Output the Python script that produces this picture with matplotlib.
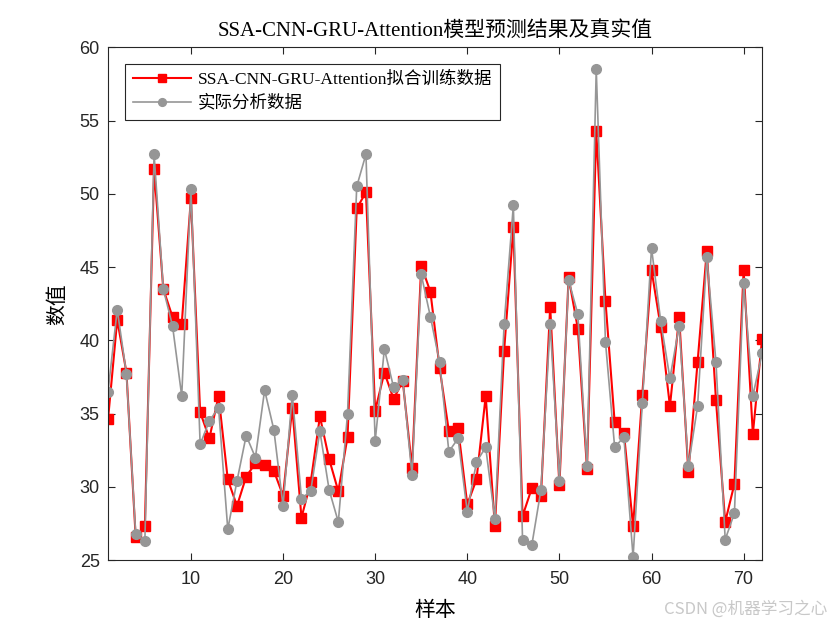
import matplotlib.pyplot as plt
import numpy as np

plt.rcParams['font.family'] = ['Liberation Serif', 'Noto Sans CJK SC']

# 预测值(红) 与 实际值(灰)
pred = [34.6, 41.4, 37.8, 26.6, 27.3, 51.7, 43.5, 41.6, 41.1, 49.7,
        35.1, 33.3, 36.2, 30.5, 28.7, 30.7, 31.6, 31.5, 31.1, 29.4,
        35.4, 27.9, 30.3, 34.8, 31.9, 29.7, 33.4, 49.0, 50.1, 35.2,
        37.8, 36.0, 37.2, 31.3, 45.1, 43.3, 38.1, 33.8, 34.0, 28.8,
        30.5, 36.2, 27.3, 39.3, 47.7, 28.0, 29.9, 29.4, 42.3, 30.1,
        44.3, 40.8, 31.2, 54.3, 42.7, 34.4, 33.7, 27.3, 36.3, 44.8,
        40.9, 35.5, 41.6, 31.0, 38.5, 46.1, 35.9, 27.6, 30.2, 44.8,
        33.6, 40.1]
actual = [36.5, 42.1, 37.7, 26.8, 26.3, 52.7, 43.5, 41.0, 36.2, 50.3,
          32.9, 34.5, 35.4, 27.1, 30.4, 33.5, 32.0, 36.6, 33.9, 28.7,
          36.3, 29.2, 29.7, 33.8, 29.8, 27.6, 35.0, 50.5, 52.7, 33.1,
          39.4, 36.8, 37.3, 30.8, 44.5, 41.6, 38.5, 32.4, 33.3, 28.3,
          31.7, 32.7, 27.8, 41.1, 49.2, 26.4, 26.0, 29.8, 41.1, 30.4,
          44.1, 41.8, 31.4, 58.5, 39.9, 32.7, 33.4, 25.2, 35.7, 46.3,
          41.3, 37.4, 41.0, 31.4, 35.5, 45.7, 38.5, 26.4, 28.2, 43.9,
          36.2, 39.1]
x = np.arange(1, len(pred) + 1)

fig = plt.figure(figsize=(8.4, 6.3), dpi=100)
ax = fig.add_axes([0.1286, 0.111, 0.7786, 0.814])

ax.plot(x, pred, '-s', color='red', lw=1.5, ms=7,
        label='SSA-CNN-GRU-Attention拟合训练数据')
ax.plot(x, actual, '-o', color='#969696', lw=1.2, ms=7,
        label='实际分析数据')

ax.set_xlim(1, 72)
ax.set_ylim(25, 60)
ax.set_xticks(range(10, 71, 10))
ax.set_yticks(range(25, 61, 5))
ax.tick_params(direction='in', top=True, right=True, labelsize=13, length=5,
               labelcolor='#262626', color='#262626')
ax.tick_params(axis='x', pad=8)
ax.tick_params(axis='y', pad=6)
for lab in ax.get_xticklabels() + ax.get_yticklabels():
    lab.set_family('Liberation Sans')
for s in ax.spines.values():
    s.set_color('#262626')

ax.set_title('SSA-CNN-GRU-Attention模型预测结果及真实值', fontsize=15, pad=8)
ax.set_xlabel('样本', fontsize=15, labelpad=10)
ax.set_ylabel('数值', fontsize=15, labelpad=8)

leg = ax.legend(loc='upper left', fontsize=12.6, fancybox=False, edgecolor='#262626',
                framealpha=1, borderpad=0.45, handlelength=3.3, handletextpad=0.4,
                labelspacing=0.4, borderaxespad=0, bbox_to_anchor=(0.026, 0.968),
                markerscale=0.8)
leg.get_frame().set_linewidth(0.8)

fig.text(0.985, 0.02, 'CSDN @机器学习之心', ha='right', va='bottom',
         fontsize=12, color='#c8c8c8', family=['Noto Sans CJK SC'])

plt.savefig('out.png')
